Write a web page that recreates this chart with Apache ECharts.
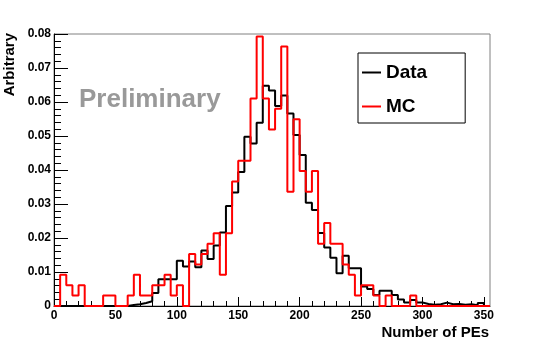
<!DOCTYPE html>
<html><head><meta charset="utf-8">
<script src="https://cdn.jsdelivr.net/npm/echarts@6/dist/echarts.min.js"></script>
<style>html,body{margin:0;padding:0;background:#fff}#c{width:545px;height:340px}</style>
</head><body><div id="c"></div>
<script>
// bin left edges (width 5), last entry closes the final bin
const binEdges = [0,5,10,15,20,25,30,35,40,45,50,55,60,65,70,75,80,85,90,95,100,105,110,115,120,125,130,135,140,145,150,155,160,165,170,175,180,185,190,195,200,205,210,215,220,225,230,235,240,245,250,255,260,265,270,275,280,285,290,295,300,305,310,315,320,325,330,335,340,345,350,355];
const dataValues = [0,0,0,0,0,0,0,0,0,0,0,0,0.0003,0.0005,0.0009,0.0014,0.0038,0.0079,0.0079,0.0079,0.0133,0.0116,0.0131,0.0114,0.0163,0.0138,0.0178,0.0216,0.0294,0.0334,0.0394,0.0498,0.0478,0.0539,0.0648,0.0634,0.0588,0.0619,0.0566,0.0503,0.0444,0.0304,0.0282,0.0215,0.0172,0.0142,0.0096,0.0148,0.0111,0.0111,0.0057,0.0050,0.0032,0.0045,0.0045,0.0032,0.0019,0.0010,0.0018,0.0010,0.0006,0.0004,0.0005,0.0010,0.0005,0.0006,0.0004,0.0005,0.0002,0.0009,0];
const mcValues = [0,0.0092,0.0061,0.0031,0.0061,0,0,0,0.0031,0.0031,0,0,0.0031,0.0092,0.0031,0.0031,0.0061,0.0061,0.0092,0.0031,0.0061,0,0.0153,0.0122,0.0153,0.0183,0.0214,0.0092,0.0214,0.0366,0.0427,0.0427,0.0610,0.0793,0.0610,0.0519,0.0580,0.0763,0.0336,0.0549,0.0397,0.0336,0.0397,0.0183,0.0244,0.0183,0.0183,0.0122,0.0092,0.0031,0.0061,0.0061,0.0031,0,0.0031,0,0,0,0.0031,0,0,0,0,0,0,0,0,0,0,0,0];
const xMajorTicks = [0,50,100,150,200,250,300,350];
const xMinorTicks = [10,20,30,40,60,70,80,90,110,120,130,140,160,170,180,190,210,220,230,240,260,270,280,290,310,320,330,340];
const yTickLabels = ['0','0.01','0.02','0.03','0.04','0.05','0.06','0.07','0.08'];

function stepData(values){
  const pts = values.map((v,i)=>[binEdges[i], v]);
  pts.push([binEdges[values.length], values[values.length-1]]);
  return pts;
}
const FONT = '"Liberation Sans", Arial, Helvetica, sans-serif';
const chart = echarts.init(document.getElementById('c'), null, {renderer:'canvas'});
chart.setOption({
  animation:false,
  grid:{left:54, right:55, top:34, bottom:34, show:true, borderColor:'#808080', borderWidth:1, backgroundColor:'transparent'},
  xAxis:[{
    type:'value', min:0, max:355, position:'bottom',
    axisLine:{show:true, lineStyle:{color:'#000', width:1}},
    axisTick:{show:true, inside:true, length:9, customValues:xMajorTicks, lineStyle:{color:'#000'}},
    axisLabel:{show:true, customValues:xMajorTicks, margin:4, color:'#000', fontFamily:FONT, fontWeight:'bold', fontSize:12},
    splitLine:{show:false}
  },{
    type:'value', min:0, max:355, position:'bottom',
    axisLine:{show:false},
    axisTick:{show:true, inside:true, length:5, customValues:xMinorTicks, lineStyle:{color:'#000'}},
    axisLabel:{show:false},
    splitLine:{show:false}
  }],
  yAxis:{
    type:'value', min:0, max:0.08, interval:0.01,
    axisLine:{show:true, lineStyle:{color:'#000', width:1}},
    axisTick:{show:true, inside:true, length:14, lineStyle:{color:'#000'}},
    minorTick:{show:true, splitNumber:5, length:7, lineStyle:{color:'#000'}},
    axisLabel:{margin:3, color:'#000', fontFamily:FONT, fontWeight:'bold', fontSize:12,
      formatter:(v)=>yTickLabels[Math.round(v/0.01)]},
    splitLine:{show:false}
  },
  legend:{
    orient:'vertical', left:358, top:53,
    data:[{name:'Data', icon:'rect'},{name:'MC', icon:'rect'}],
    itemWidth:19, itemHeight:2, itemGap:15,
    textStyle:{fontFamily:FONT, fontWeight:'bold', fontSize:19, color:'#000'},
    padding:[10,38,7,4], borderColor:'#000', borderWidth:1, backgroundColor:'#fff'
  },
  graphic:[
    {type:'text', x:10, y:33, rotation:Math.PI/2,
      style:{text:'Arbitrary', fill:'#000', font:'bold 15px '+FONT, align:'right', verticalAlign:'middle', textAlign:'right', textVerticalAlign:'middle'}},
    {type:'text', x:489, y:333,
      style:{text:'Number of PEs', fill:'#000', font:'bold 15px '+FONT, align:'right', verticalAlign:'middle', textAlign:'right', textVerticalAlign:'middle'}},
    {type:'text', x:79, y:100,
      style:{text:'Preliminary', fill:'#999999', font:'bold 26px '+FONT, align:'left', verticalAlign:'middle', textAlign:'left', textVerticalAlign:'middle'}}
  ],
  series:[
    {type:'line', name:'Data', step:'end', symbol:'none', clip:false, z:3,
      data:stepData(dataValues), color:'#000', lineStyle:{color:'#000', width:2}, itemStyle:{color:'#000'}},
    {type:'line', name:'MC', step:'end', symbol:'none', clip:false, z:4,
      data:stepData(mcValues), color:'#ff0000', lineStyle:{color:'#ff0000', width:2}, itemStyle:{color:'#ff0000'}}
  ]
});
</script></body></html>
